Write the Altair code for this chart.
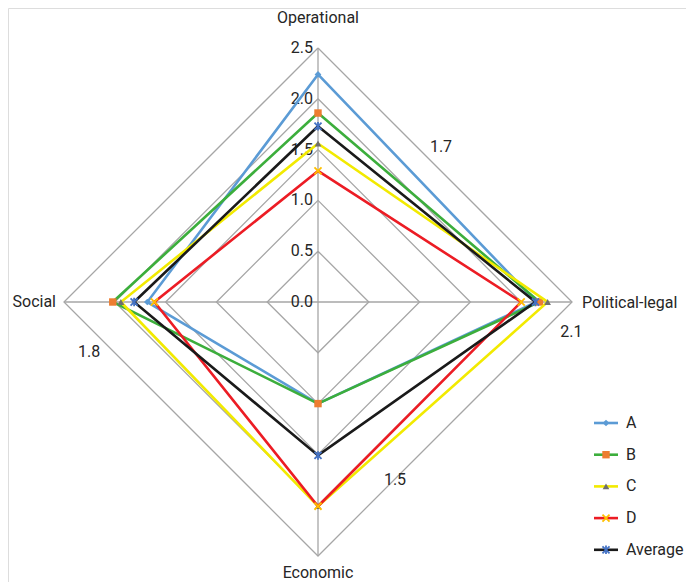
import math
import altair as alt
import pandas as pd

# ---------------- data ----------------
categories = ["Operational", "Political-legal", "Economic", "Social"]
series_names = ["A", "B", "C", "D", "Average"]
a_values = [2.24, 2.15, 1.00, 1.68]
b_values = [1.86, 2.18, 1.00, 2.02]
c_values = [1.56, 2.26, 2.01, 1.94]
d_values = [1.29, 2.00, 2.01, 1.61]
avg_values = [1.73, 2.14, 1.51, 1.81]
ring_values = [0.5, 1.0, 1.5, 2.0, 2.5]
tick_values = [0.0, 0.5, 1.0, 1.5, 2.0, 2.5]
r_max = 2.5

# ---------------- styles ----------------
line_colors = ["#5b9bd5", "#3cae3c", "#f2ea00", "#ec1c24", "#1a1a1a"]
marker_colors = ["#5b9bd5", "#ed7d31", "#6e6e6e", "#ffc000", "#4472c4"]
X_PATH = "M-1,-1L1,1M-1,1L1,-1"
STAR_PATH = "M-1,-1L1,1M-1,1L1,-1M0,-1.2L0,1.2"
marker_shapes = ["diamond", "square", "triangle-up", X_PATH, STAR_PATH]
marker_filled = [True, True, True, False, False]
marker_sizes = [45, 55, 45, 50, 50]
grid_color = "#a6a6a6"
text_color = "#262626"
FONT = "Roboto, sans-serif"
FS = 16

# layout (pixels inside the view)
K = 101.6            # pixels per unit
CX, CY = 310, 294    # centre of the radar in view pixels
W, H = 678, 574
xs = alt.Scale(domain=[-CX / K, (W - CX) / K], nice=False, zero=False)
ys = alt.Scale(domain=[-(H - CY) / K, CY / K], nice=False, zero=False)

angles = [0, 90, 180, 270]


def to_xy(vals):
    pts = []
    for v, a in zip(vals, angles):
        t = math.radians(a)
        pts.append((v * math.sin(t), v * math.cos(t)))
    return pts


def X(f="x"):
    return alt.X(f"{f}:Q", scale=xs, axis=None)


def Y(f="y"):
    return alt.Y(f"{f}:Q", scale=ys, axis=None)


def marker(i):
    if marker_filled[i]:
        return dict(shape=marker_shapes[i], filled=True, fill=marker_colors[i],
                    size=marker_sizes[i], opacity=1, strokeWidth=0)
    return dict(shape=marker_shapes[i], filled=False, stroke=marker_colors[i],
                size=marker_sizes[i], opacity=1, strokeWidth=1.8)


layers = []

# grid rings
ring_rows = []
for r in ring_values:
    pts = to_xy([r] * 4)
    pts.append(pts[0])
    for i, (x, y) in enumerate(pts):
        ring_rows.append({"ring": r, "x": x, "y": y, "o": i})
rings = alt.Chart(pd.DataFrame(ring_rows)).mark_line(
    color=grid_color, strokeWidth=1.3).encode(
    x=X(), y=Y(), detail="ring:N", order="o:Q")
layers.append(rings)

# spokes
spoke_rows = [{"x": 0.0, "y": 0.0, "x2": x, "y2": y} for x, y in to_xy([r_max] * 4)]
spokes = alt.Chart(pd.DataFrame(spoke_rows)).mark_rule(
    color=grid_color, strokeWidth=1.3).encode(
    x=X(), y=Y(), x2="x2:Q", y2="y2:Q")
layers.append(spokes)

# tick labels on the vertical axis
ticks = alt.Chart(pd.DataFrame({"v": tick_values, "x": [0.0] * len(tick_values)})).mark_text(
    align="right", baseline="middle", dx=-5, font=FONT, fontSize=FS, color=text_color
).encode(x=X(), y=Y("v"), text=alt.Text("v:Q", format=".1f"))
layers.append(ticks)

# category labels
cat_pts = to_xy([r_max] * 4)
cat_style = [
    dict(align="center", baseline="middle", dx=0, dy=-30),
    dict(align="left", baseline="middle", dx=10, dy=1),
    dict(align="center", baseline="middle", dx=0, dy=17),
    dict(align="right", baseline="middle", dx=-8, dy=0),
]
for name, (x, y), st in zip(categories, cat_pts, cat_style):
    layers.append(
        alt.Chart(pd.DataFrame({"x": [x], "y": [y], "t": [name]})).mark_text(
            font=FONT, fontSize=FS, color=text_color, **st
        ).encode(x=X(), y=Y(), text="t:N")
    )

# series
all_values = [a_values, b_values, c_values, d_values, avg_values]
legend_x0, legend_x1, legend_tx = 586, 610, 618
legend_y0, legend_step = 415, 31.7
for i, (name, vals) in enumerate(zip(series_names, all_values)):
    pts = to_xy(vals)
    rows = [{"x": x, "y": y, "o": j} for j, (x, y) in enumerate(pts + [pts[0]])]
    df = pd.DataFrame(rows)
    layers.append(
        alt.Chart(df).mark_line(color=line_colors[i], strokeWidth=2.6).encode(
            x=X(), y=Y(), order="o:Q")
    )
    layers.append(
        alt.Chart(pd.DataFrame(rows[:-1])).mark_point(**marker(i)).encode(x=X(), y=Y())
    )
    # legend entry
    ly = (CY - (legend_y0 + i * legend_step)) / K
    lx0 = (legend_x0 - CX) / K
    lx1 = (legend_x1 - CX) / K
    ltx = (legend_tx - CX) / K
    ldf = pd.DataFrame({"x": [lx0], "x2": [lx1], "y": [ly], "xm": [(lx0 + lx1) / 2],
                        "xt": [ltx], "t": [name]})
    layers.append(
        alt.Chart(ldf).mark_rule(color=line_colors[i], strokeWidth=2.6).encode(
            x=X(), x2="x2:Q", y=Y())
    )
    layers.append(
        alt.Chart(ldf).mark_point(**marker(i)).encode(x=X("xm"), y=Y())
    )
    layers.append(
        alt.Chart(ldf).mark_text(
            align="left", baseline="middle", font=FONT, fontSize=FS, color=text_color
        ).encode(x=X("xt"), y=Y(), text="t:N")
    )

# average data labels (offsets in pixels from each average point)
label_offsets = [(123, 21), (36, 30), (77, 25), (-45, 50)]
avg_pts = to_xy(avg_values)
lab_rows = []
for (x, y), (dx, dy), v in zip(avg_pts, label_offsets, avg_values):
    lab_rows.append({"x": x + dx / K, "y": y - dy / K, "v": v})
layers.append(
    alt.Chart(pd.DataFrame(lab_rows)).mark_text(
        align="center", baseline="middle", font=FONT, fontSize=FS, color=text_color
    ).encode(x=X(), y=Y(), text=alt.Text("v:Q", format=".1f"))
)

chart = alt.layer(*layers).properties(
    width=W, height=H, autosize=alt.AutoSizeParams(type="none"), padding=0
).configure_view(stroke=None).configure(background="white")

chart.save("out.html", embed_options={"renderer": "svg", "actions": False})
